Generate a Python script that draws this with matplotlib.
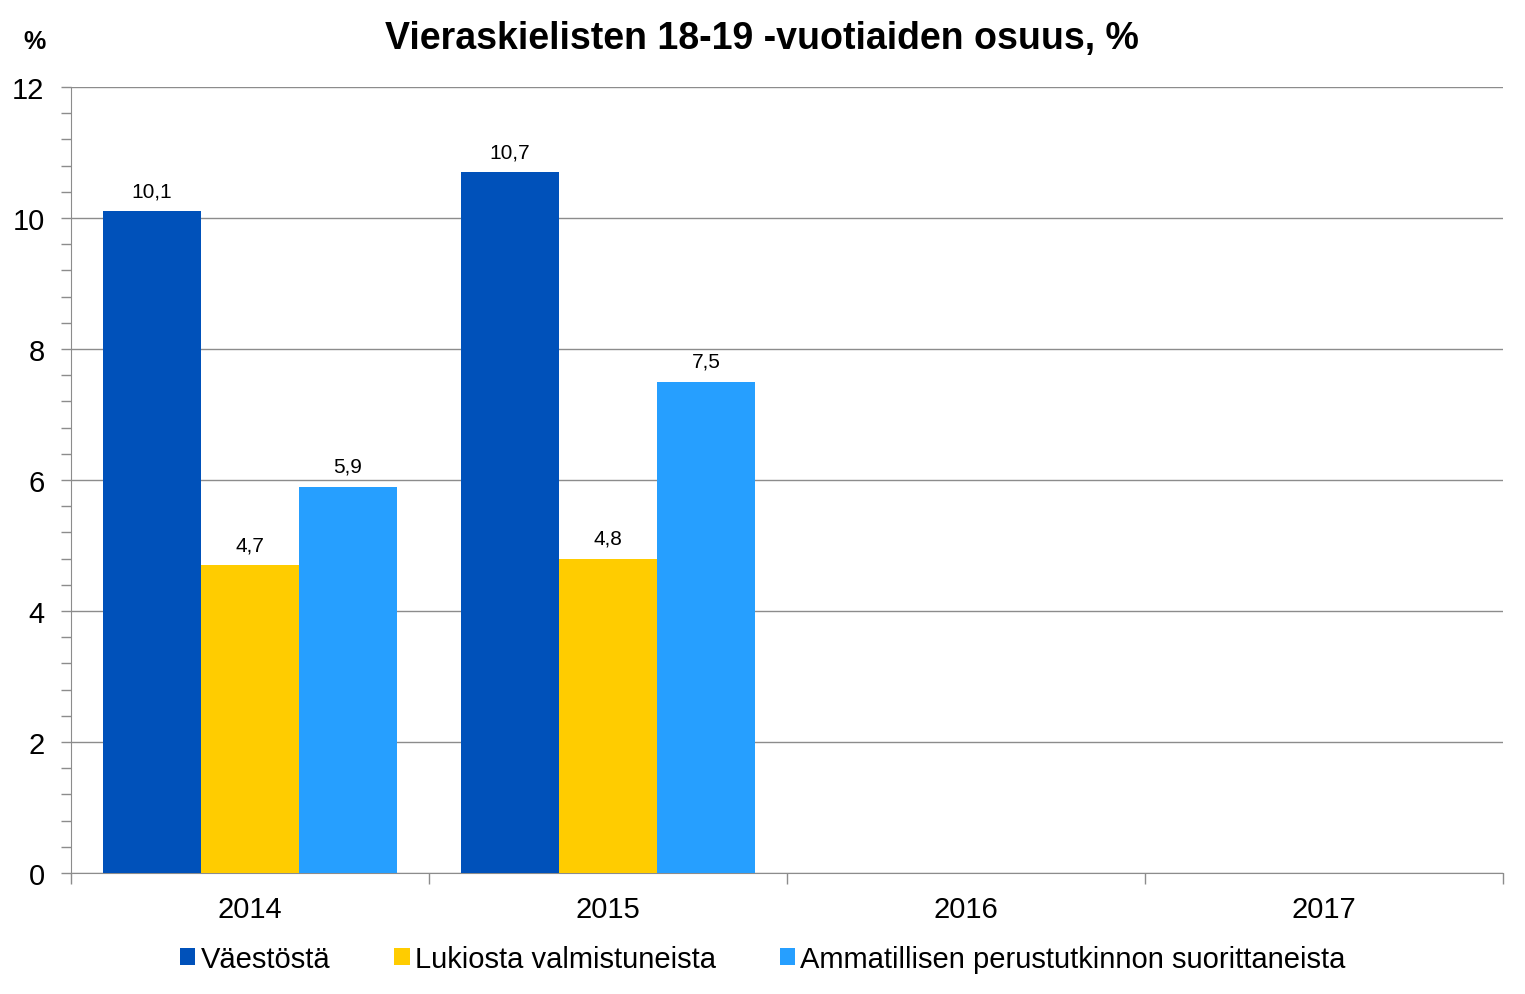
import numpy as np
import matplotlib
matplotlib.use("Agg")
import matplotlib.pyplot as plt
from matplotlib.ticker import MultipleLocator, FixedLocator, NullFormatter

plt.rcParams["font.family"] = ["Liberation Sans", "DejaVu Sans"]

years = ["2014", "2015", "2016", "2017"]
series_names = [
    "Väestöstä",
    "Lukiosta valmistuneista",
    "Ammatillisen perustutkinnon suorittaneista",
]
vaestosta = [10.1, 10.7, np.nan, np.nan]
lukiosta = [4.7, 4.8, np.nan, np.nan]
ammatillinen = [5.9, 7.5, np.nan, np.nan]
colors = ["#0051BA", "#FFCC00", "#269FFF"]

fig = plt.figure(figsize=(15.25, 9.95), dpi=100)
ax = fig.add_axes([71 / 1525, 1 - 874 / 995, (1503 - 71) / 1525, (874 - 88) / 995])

x = np.arange(len(years))
width = 0.274
for i, (vals, name, c) in enumerate(zip([vaestosta, lukiosta, ammatillinen], series_names, colors)):
    pos = x + (i - 1) * width
    ax.bar(pos, vals, width, color=c, label=name, zorder=3)
    for xp, v in zip(pos, vals):
        if not np.isnan(v):
            ax.text(xp, v + 0.17, f"{v:.1f}".replace(".", ","), ha="center", va="bottom",
                    fontsize=15, color="black")

ax.set_xlim(-0.5, len(years) - 0.5)
ax.set_ylim(0, 12)
ax.yaxis.set_major_locator(MultipleLocator(2))
ax.yaxis.set_minor_locator(MultipleLocator(0.4))
ax.grid(axis="y", which="major", color="#8C8C8C", linewidth=1, zorder=0)

ax.set_xticks(x)
ax.set_xticklabels(years)
ax.xaxis.set_minor_locator(FixedLocator(np.arange(len(years) + 1) - 0.5))
ax.xaxis.set_minor_formatter(NullFormatter())
ax.tick_params(axis="x", which="major", length=0, labelsize=21, pad=16)
ax.tick_params(axis="x", which="minor", length=8, color="#8C8C8C", width=1)
ax.tick_params(axis="y", which="both", length=7, color="#8C8C8C", width=1, labelsize=21, pad=12)

for side in ["top", "right"]:
    ax.spines[side].set_visible(False)
for side in ["left", "bottom"]:
    ax.spines[side].set_color("#8C8C8C")

fig.text(762 / 1525, 1 - 39 / 995, "Vieraskielisten 18-19 -vuotiaiden osuus, %",
         ha="center", va="center", fontsize=27, fontweight="bold")
fig.text(34 / 1525, 1 - 42 / 995, "%", ha="center", va="center", fontsize=18, fontweight="bold")

fig.legend(loc="center", bbox_to_anchor=(763 / 1525, 1 - 960 / 995), ncol=3, frameon=False,
           fontsize=21, handlelength=0.52, handleheight=0.52, handletextpad=0.18, columnspacing=2.2)

fig.savefig("out.png", dpi=100)
